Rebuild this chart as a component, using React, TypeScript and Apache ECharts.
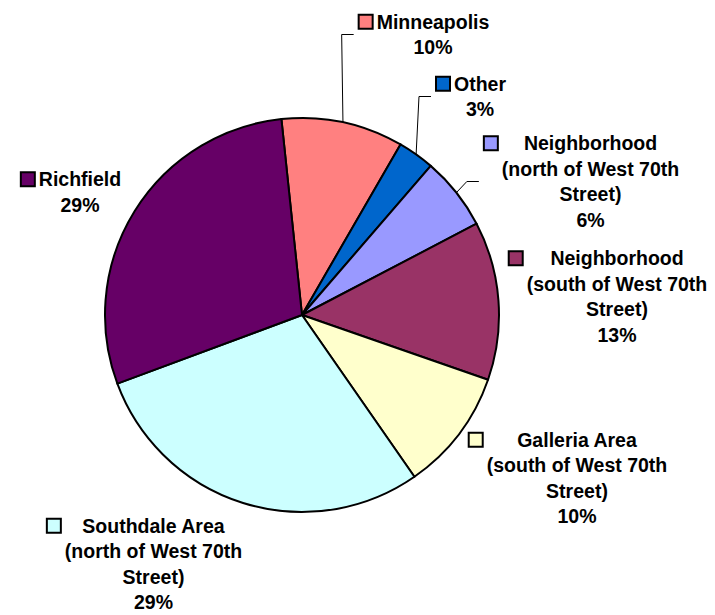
import React, { useEffect, useRef } from 'react';
import * as echarts from 'echarts';

// ---- data ----
const CATEGORIES: string[] = [
  'Minneapolis',
  'Other',
  'Neighborhood\n(north of West 70th\nStreet)',
  'Neighborhood\n(south of West 70th\nStreet)',
  'Galleria Area\n(south of West 70th\nStreet)',
  'Southdale Area\n(north of West 70th\nStreet)',
  'Richfield',
];
const SHARES: number[] = [10, 3, 6, 13, 10, 29, 29];
const COLORS: string[] = ['#FF8080', '#0066CC', '#9999FF', '#993366', '#FFFFCC', '#CCFFFF', '#660066'];
const HAS_LEADER: boolean[] = [true, true, true, false, false, false, false];

// ---- layout (label block anchors: centre x, top y) ----
const LABEL_ANCHORS: number[][] = [
  [433, 9],
  [480, 71],
  [590.5, 130.5],
  [617, 245.5],
  [577, 427],
  [153.5, 513],
  [80, 166.5],
];

const FONT_FAMILY = '"Liberation Sans", Arial, Helvetica, sans-serif';
const LH = 25.5;

export default function App() {
  const ref = useRef<HTMLDivElement>(null);

  useEffect(() => {
    if (!ref.current) return;
    const chart = echarts.init(ref.current, undefined, { renderer: 'svg' });

    const rich: Record<string, any> = {
      t: { fontFamily: FONT_FAMILY, fontWeight: 'bold', fontSize: 19.5, color: '#000', lineHeight: LH },
      g: { width: 5, height: 1, align: 'left', lineHeight: LH },
      sl: { width: 17, height: 1, align: 'left', lineHeight: LH },
      sr: { width: 17, height: 1, align: 'right', lineHeight: LH },
    };
    COLORS.forEach((c, i) => {
      rich['m' + i] = {
        width: 12,
        height: 12,
        backgroundColor: c,
        borderColor: '#000',
        borderWidth: 2,
        align: 'left',
        lineHeight: LH,
      };
    });

    const data = CATEGORIES.map((name, i) => ({
      name,
      value: SHARES[i],
      itemStyle: { color: COLORS[i] },
      labelLine: { show: HAS_LEADER[i] },
    }));

    chart.setOption({
      animation: false,
      backgroundColor: '#fff',
      series: [
        {
          type: 'pie',
          left: 0,
          top: 0,
          width: 2000,
          height: 2000,
          center: [302, 315],
          radius: 197,
          startAngle: 96,
          clockwise: true,
          avoidLabelOverlap: false,
          bleedMargin: 0,
          emphasis: { disabled: true },
          itemStyle: { borderColor: '#000', borderWidth: 2 },
          label: {
            show: true,
            position: 'outside',
            fontFamily: FONT_FAMILY,
            fontWeight: 'bold',
            fontSize: 19.5,
            color: '#000',
            lineHeight: LH,
            overflow: 'none',
            formatter: (p: any) => {
              const lines = String(p.name).split('\n');
              lines.push(Math.round(p.percent) + '%');
              return lines
                .map((ln, k) => (k === 0 ? `{m${p.dataIndex}|}{g|}` : '{sl|}') + `{t|${ln}}` + '{sr|}')
                .join('\n');
            },
            rich,
          },
          labelLine: {
            show: true,
            length: 2,
            length2: 2,
            smooth: false,
            lineStyle: { color: '#000', width: 1 },
          },
          labelLayout: (params: any) => {
            const i = params.dataIndex;
            const [cx, top] = LABEL_ANCHORS[i];
            const w = params.labelRect.width;
            const h = params.labelRect.height;
            const out: any = { x: cx, y: top, align: 'center', verticalAlign: 'top' };
            if (HAS_LEADER[i] && params.labelLinePoints && params.labelLinePoints.length) {
              const endX = cx - w / 2 - 5;
              const endY = top + h / 2;
              out.labelLinePoints = [params.labelLinePoints[0], [endX - 12, endY], [endX, endY]];
            }
            return out;
          },
          data,
        },
      ],
    });

    return () => {
      chart.dispose();
    };
  }, []);

  return (
    <div
      ref={ref}
      style={{ position: 'fixed', left: 0, top: 0, width: 715, height: 615, background: '#fff' }}
    />
  );
}
